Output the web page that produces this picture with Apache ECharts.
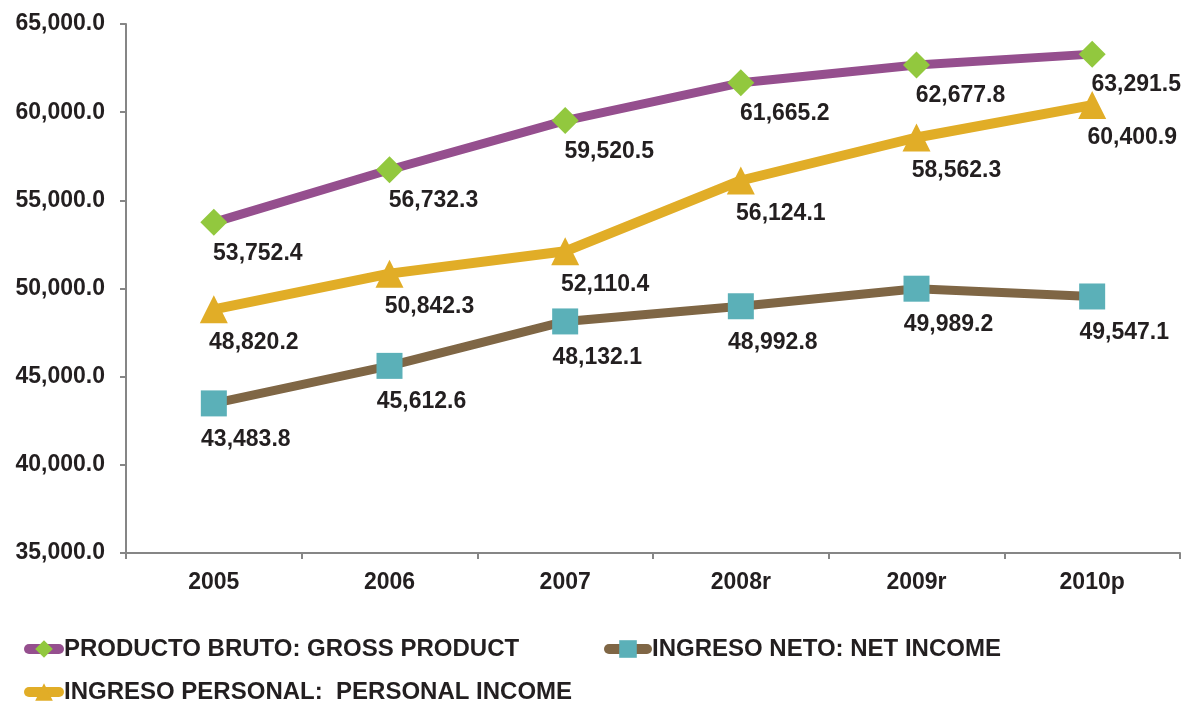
<!DOCTYPE html>
<html>
<head>
<meta charset="utf-8">
<script src="https://cdn.jsdelivr.net/npm/echarts@6/dist/echarts.min.js"></script>
<style>
html,body{margin:0;padding:0;background:#fff;}
#c{width:1182px;height:704px;}
</style>
</head>
<body>
<div id="c"></div>
<script>
const categories = ['2005', '2006', '2007', '2008r', '2009r', '2010p'];
const grossProduct = [53752.4, 56732.3, 59520.5, 61665.2, 62677.8, 63291.5];
const netIncome = [43483.8, 45612.6, 48132.1, 48992.8, 49989.2, 49547.1];
const personalIncome = [48820.2, 50842.3, 52110.4, 56124.1, 58562.3, 60400.9];
const seriesNames = ['PRODUCTO BRUTO: GROSS PRODUCT', 'INGRESO NETO: NET INCOME', 'INGRESO PERSONAL:  PERSONAL INCOME'];

const FONT = '"Liberation Sans", Arial, sans-serif';
const TEXT = '#231F20';
function fmt(v) {
  return Number(v).toLocaleString('en-US', {minimumFractionDigits: 1, maximumFractionDigits: 1});
}
function lbl(off) {
  return {show: true, position: 'inside', offset: off, formatter: p => fmt(p.value),
    fontFamily: FONT, fontWeight: 'bold', fontSize: 23, color: TEXT};
}
const chart = echarts.init(document.getElementById('c'));
const legendText = {fontFamily: FONT, fontWeight: 'bold', fontSize: 24, color: TEXT};
const legendLine = {width: 10, cap: 'round'};
chart.setOption({
  animation: false,
  grid: {left: 126, top: 24, right: 2, bottom: 151, containLabel: false},
  legend: [
    {data: [seriesNames[0]], left: 24, top: 637, padding: 0, itemWidth: 30, itemHeight: 22, textStyle: legendText, lineStyle: legendLine, itemGap: 0},
    {data: [seriesNames[1]], left: 604, top: 637, padding: 0, itemWidth: 38, itemHeight: 22, textStyle: legendText, lineStyle: legendLine, itemGap: 0},
    {data: [seriesNames[2]], left: 24, top: 680, padding: 0, itemWidth: 30, itemHeight: 22, textStyle: legendText, lineStyle: legendLine, itemGap: 0}
  ],
  xAxis: {
    type: 'category', data: categories, boundaryGap: true,
    axisLine: {lineStyle: {color: '#868686', width: 2}},
    axisTick: {show: true, length: 6, lineStyle: {color: '#868686', width: 2}},
    axisLabel: {margin: 18, fontFamily: FONT, fontWeight: 'bold', fontSize: 23, color: TEXT}
  },
  yAxis: {
    type: 'value', min: 35000, max: 65000, interval: 5000,
    axisLine: {show: true, lineStyle: {color: '#868686', width: 2}},
    axisTick: {show: true, length: 6, lineStyle: {color: '#868686', width: 2}},
    splitLine: {show: false},
    axisLabel: {margin: 21, formatter: v => fmt(v), fontFamily: FONT, fontWeight: 'bold', fontSize: 23, color: TEXT}
  },
  series: [
    {name: seriesNames[0], type: 'line', data: grossProduct, symbol: 'diamond', symbolSize: 27,
      lineStyle: {color: '#954F8E', width: 9}, itemStyle: {color: '#92C83E'},
      label: lbl([44, 31]), z: 3},
    {name: seriesNames[1], type: 'line', data: netIncome, symbol: 'rect', symbolSize: 26,
      lineStyle: {color: '#7F6645', width: 9}, itemStyle: {color: '#5BB0B8'},
      label: lbl([32, 36]), z: 2},
    {name: seriesNames[2], type: 'line', data: personalIncome, symbol: 'triangle', symbolSize: 28,
      lineStyle: {color: '#E1AD27', width: 10}, itemStyle: {color: '#E1AD27'},
      label: lbl([40, 33]), z: 2}
  ]
});
</script>
</body>
</html>
